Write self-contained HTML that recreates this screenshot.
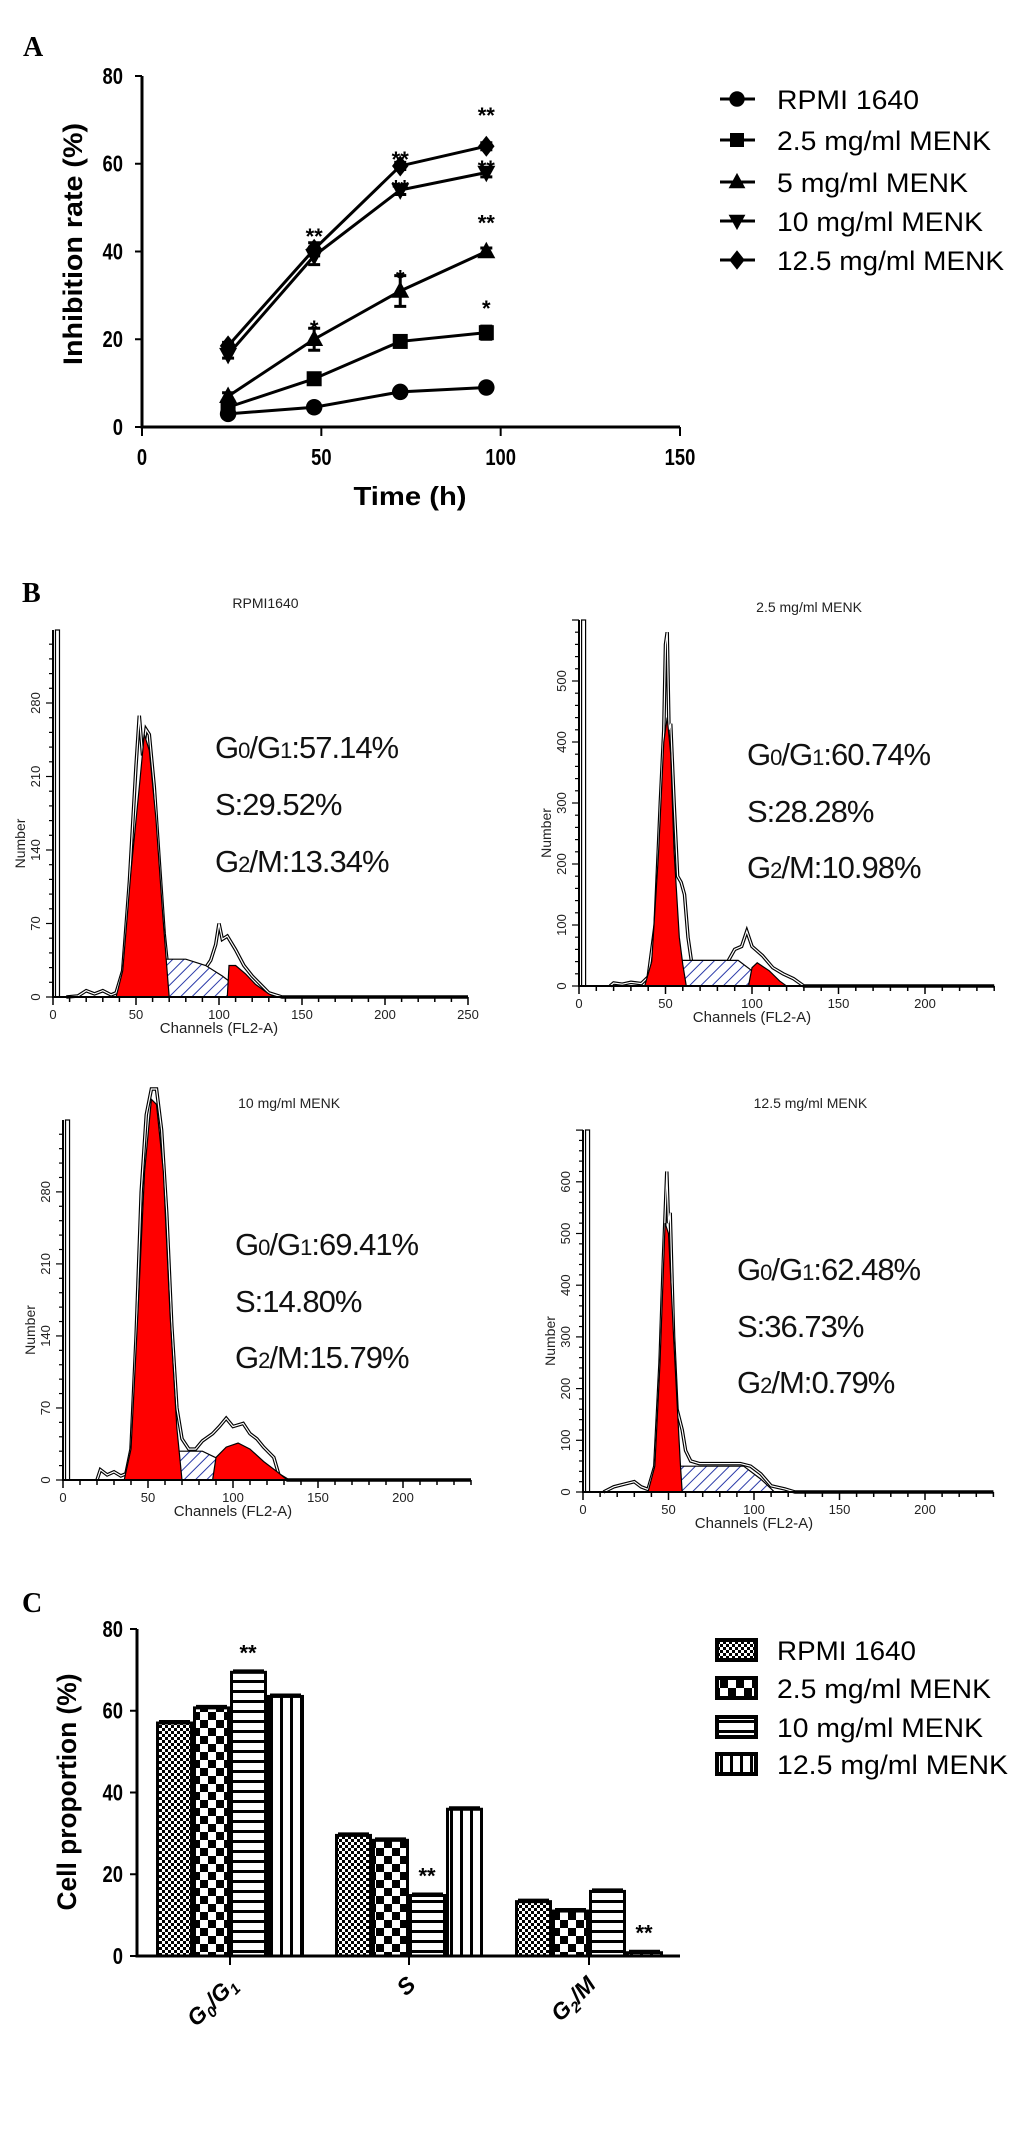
<!DOCTYPE html>
<html><head><meta charset="utf-8"><style>
html,body{margin:0;padding:0;background:#fff;}
svg{display:block;font-family:"Liberation Sans",Arial,sans-serif;}
</style></head><body>
<svg id="fig" xmlns="http://www.w3.org/2000/svg" width="1033" height="2142" viewBox="0 0 1033 2142">
<defs>
<pattern id="hatch" patternUnits="userSpaceOnUse" width="8" height="8" patternTransform="rotate(45)"><rect width="8" height="8" fill="#fff"/><line x1="0" y1="0" x2="0" y2="8" stroke="#2a3aa8" stroke-width="2"/></pattern>
<pattern id="pFine" patternUnits="userSpaceOnUse" width="6" height="6"><rect width="6" height="6" fill="#fff"/><rect width="3" height="3" fill="#000"/><rect x="3" y="3" width="3" height="3" fill="#000"/></pattern>
<pattern id="pBig" patternUnits="userSpaceOnUse" width="16" height="16"><rect width="16" height="16" fill="#fff"/><rect width="8" height="8" fill="#000"/><rect x="8" y="8" width="8" height="8" fill="#000"/></pattern>
<pattern id="pH" patternUnits="userSpaceOnUse" width="10" height="10"><rect width="10" height="10" fill="#fff"/><rect y="0" width="10" height="3" fill="#000"/></pattern>
<pattern id="pV" patternUnits="userSpaceOnUse" width="10" height="10"><rect width="10" height="10" fill="#fff"/><rect x="0" width="3" height="10" fill="#000"/></pattern>
</defs>
<g id="gA"></g>
<g id="gB"></g>
<g id="gC"></g>
</svg>
<script>
// ---------- Panel A data ----------
const timeX = [24, 48, 72, 96];
const seriesNames = ["RPMI 1640", "2.5 mg/ml MENK", "5 mg/ml MENK", "10 mg/ml MENK", "12.5 mg/ml MENK"];
const rpmiVals = [3, 4.5, 8, 9];
const menk25Vals = [4.5, 11, 19.5, 21.5];
const menk5Vals = [7, 20, 31, 40];
const menk10Vals = [16.5, 39, 54, 58];
const menk125Vals = [18.5, 40.5, 59.5, 64];
const rpmiErr = [0.5, 0.5, 0.5, 0.5];
const menk25Err = [0.5, 1, 0.8, 1.5];
const menk5Err = [0.8, 2.5, 3.5, 0.8];
const menk10Err = [0.8, 2, 1, 1];
const menk125Err = [0.8, 1.5, 0.8, 0.8];
const yTicksA = [0, 20, 40, 60, 80];
const xTicksA = [0, 50, 100, 150];
const starX = [48, 48, 72, 72, 72, 96, 96, 96, 96];
const starY = [44.5, 23.5, 62, 35, 55.5, 72, 60, 47.5, 28];
const starText = ["**", "*", "**", "*", "**", "**", "**", "**", "*"];

// ---------- Panel C data ----------
const phaseCats = ["G0/G1", "S", "G2/M"];
const groupNamesC = ["RPMI 1640", "2.5 mg/ml MENK", "10 mg/ml MENK", "12.5 mg/ml MENK"];
const cRpmi = [57, 29.5, 13.3];
const c25 = [60.7, 28.3, 11];
const c10 = [69.4, 14.8, 15.8];
const c125 = [63.5, 35.9, 0.8];
const yTicksC = [0, 20, 40, 60, 80];
const cStarCat = [0, 1, 2];
const cStarBar = [2, 2, 3];

// ---------- Panel B data (channel, count) ----------
const h1Outline = [[8,0],[15,1],[20,6],[25,3],[30,6],[35,2],[38,4],[42,25],[46,110],[50,220],[52,268],[54,230],[56,255],[58,250],[61,200],[64,130],[67,60],[69,30],[72,20],[80,20],[88,20],[92,28],[95,35],[98,50],[100,70],[102,55],[105,58],[110,45],[115,30],[120,20],[125,12],[130,4],[138,0],[250,0]];
const h1G1 = [[38,0],[42,25],[47,120],[52,200],[55,250],[58,235],[62,170],[66,80],[69,20],[70,0]];
const h1S = [[46,0],[55,18],[63,36],[80,36],[92,30],[102,20],[112,8],[124,0]];
const h1G2 = [[105,0],[106,30],[110,30],[116,22],[122,12],[130,3],[134,0]];
const h2Outline = [[18,0],[20,5],[25,3],[30,6],[36,4],[40,15],[44,100],[47,300],[49,420],[50,560],[51,580],[52,420],[53,430],[55,300],[57,180],[59,170],[61,150],[63,80],[65,40],[70,40],[86,40],[90,60],[94,65],[97,90],[100,65],[106,50],[112,30],[118,20],[124,12],[130,0],[240,0]];
const h2G1 = [[38,0],[42,40],[46,220],[49,400],[51,440],[53,380],[55,220],[58,80],[60,35],[62,0]];
const h2S = [[44,0],[54,35],[60,42],[92,42],[100,25],[110,0]];
const h2G2 = [[98,0],[100,30],[103,38],[110,25],[116,8],[120,0]];
const h3Outline = [[20,0],[22,10],[26,5],[30,8],[34,4],[37,6],[40,30],[43,140],[46,280],[49,355],[52,380],[55,380],[58,340],[61,260],[64,150],[67,70],[70,40],[74,30],[78,30],[82,38],[88,45],[92,52],[96,60],[100,52],[106,55],[110,45],[114,40],[118,32],[124,22],[127,5],[132,0],[240,0]];
const h3G1 = [[36,0],[40,30],[44,160],[48,300],[52,370],[55,365],[59,300],[63,160],[67,50],[70,0]];
const h3S = [[48,0],[57,18],[66,28],[82,28],[92,20],[104,8],[112,0]];
const h3G2 = [[88,0],[90,22],[96,32],[103,36],[110,30],[118,18],[126,8],[132,0]];
const h4Outline = [[12,0],[18,10],[24,15],[30,20],[34,10],[38,5],[42,50],[45,250],[47,450],[49,620],[50,520],[51,540],[53,300],[55,160],[58,120],[60,80],[63,60],[68,55],[80,55],[92,55],[98,50],[104,35],[110,12],[118,6],[124,0],[240,0]];
const h4G1 = [[38,0],[42,50],[45,250],[48,520],[50,500],[53,300],[56,110],[57,50],[58,0]];
const h4S = [[46,0],[56,50],[94,50],[104,25],[112,0]];
const h1Pct = ["57.14%", "29.52%", "13.34%"];
const h2Pct = ["60.74%", "28.28%", "10.98%"];
const h3Pct = ["69.41%", "14.80%", "15.79%"];
const h4Pct = ["62.48%", "36.73%", "0.79%"];

const NS = "http://www.w3.org/2000/svg";
function mk(parent, tag, attrs, text) {
  const e = document.createElementNS(NS, tag);
  for (const k in attrs) e.setAttribute(k, attrs[k]);
  if (text !== undefined) e.textContent = text;
  parent.appendChild(e);
  return e;
}

// ================= PANEL A =================
const gA = document.getElementById("gA");
const xA = v => 142 + v * (538 / 150);
const yA = v => 427 - v * (351 / 80);
let t = mk(gA, "text", {x: 23, y: 56, "font-family": "Liberation Serif, serif", "font-weight": "bold", "font-size": 28}, "A");


let ax = mk(gA, "path", {d: `M${xA(0)} ${yA(80)} V${yA(0)} H${xA(150)}`, stroke: "#000", "stroke-width": 3, fill: "none"});


yTicksA.forEach(v => {
  mk(gA, "line", {x1: xA(0) - 7, x2: xA(0), y1: yA(v), y2: yA(v), stroke: "#000", "stroke-width": 2});
  const l = mk(gA, "text", {x: 123, y: yA(v) + 8, "text-anchor": "end", "font-size": 23, "font-weight": "bold", transform: `translate(${123*0.2},0) scale(0.8,1)`}, String(v));
  
  
});
xTicksA.forEach(v => {
  mk(gA, "line", {x1: xA(v), x2: xA(v), y1: yA(0), y2: yA(0) + 9, stroke: "#000", "stroke-width": 2});
  const cx = xA(v);
  const l = mk(gA, "text", {x: cx, y: 465, "text-anchor": "middle", "font-size": 23, "font-weight": "bold", transform: `translate(${cx*0.2},0) scale(0.8,1)`}, String(v));
  
  
});
t = mk(gA, "text", {x: 410, y: 505, "text-anchor": "middle", "font-size": 26, "font-weight": "bold", textLength: 113, lengthAdjust: "spacingAndGlyphs"}, "Time  (h)");


t = mk(gA, "text", {x: 0, y: 0, "text-anchor": "middle", "font-size": 27, "font-weight": "bold", textLength: 242, lengthAdjust: "spacingAndGlyphs", transform: "translate(82,244) rotate(-90)"}, "Inhibition rate (%)");



function marker(g, type, cx, cy, s) {
  let e;
  if (type === 0) e = mk(g, "circle", {cx, cy, r: s * 0.55});
  else if (type === 1) e = mk(g, "rect", {x: cx - s/2, y: cy - s/2, width: s, height: s});
  else if (type === 2) e = mk(g, "polygon", {points: `${cx},${cy - s*0.65} ${cx - s*0.6},${cy + s*0.45} ${cx + s*0.6},${cy + s*0.45}`});
  else if (type === 3) e = mk(g, "polygon", {points: `${cx},${cy + s*0.65} ${cx - s*0.6},${cy - s*0.45} ${cx + s*0.6},${cy - s*0.45}`});
  else e = mk(g, "polygon", {points: `${cx},${cy - s*0.7} ${cx + s*0.55},${cy} ${cx},${cy + s*0.7} ${cx - s*0.55},${cy}`});
  e.setAttribute("fill", "#000");
  return e;
}
const allVals = [rpmiVals, menk25Vals, menk5Vals, menk10Vals, menk125Vals];
const allErr = [rpmiErr, menk25Err, menk5Err, menk10Err, menk125Err];
allVals.forEach((vals, si) => {
  const g = mk(gA, "g", {});
  
  
  const d = vals.map((v, i) => (i ? "L" : "M") + xA(timeX[i]) + " " + yA(v)).join(" ");
  mk(g, "path", {d, stroke: "#000", "stroke-width": 3, fill: "none"});
  vals.forEach((v, i) => {
    const e = allErr[si][i], cx = xA(timeX[i]);
    mk(g, "path", {d: `M${cx} ${yA(v + e)} V${yA(v - e)} M${cx - 6} ${yA(v + e)} H${cx + 6} M${cx - 6} ${yA(v - e)} H${cx + 6}`, stroke: "#000", "stroke-width": 3});
    const m = marker(g, si, cx, yA(v), 15);
    
    
  });
});
starX.forEach((x, i) => {
  const s = mk(gA, "text", {x: xA(x), y: yA(starY[i]) + 12, "text-anchor": "middle", "font-size": 22, "font-weight": "bold"}, starText[i]);
  
  
});
const legRowsA = [99, 140, 182, 221, 260];
const legWA = [142, 214, 191, 206, 227];
seriesNames.forEach((n, i) => {
  const g = mk(gA, "g", {});
  
  
  const y = legRowsA[i];
  mk(g, "line", {x1: 720, x2: 755, y1: y, y2: y, stroke: "#000", "stroke-width": 3});
  marker(g, i, 737, y, 14);
  mk(g, "text", {x: 777, y: y + 10, "font-size": 27, textLength: legWA[i], lengthAdjust: "spacingAndGlyphs"}, n);
});

// ================= PANEL B =================
const gB = document.getElementById("gB");
t = mk(gB, "text", {x: 22, y: 602, "font-family": "Liberation Serif, serif", "font-weight": "bold", "font-size": 28}, "B");


const histCfg = [
  {name: "RPMI1640", x0: 53, y0: 997, kx: 1.66, ky: 1.05, xEnd: 250, yStep: 70, yMax: 280, top: 630, xt: 250, out: h1Outline, g1: h1G1, s: h1S, g2: h1G2, pct: h1Pct, tx: 215, tb: [758, 815, 872], ty: 608},
  {name: "2.5 mg/ml MENK", x0: 579, y0: 986, kx: 1.73, ky: 0.61, xEnd: 240, yStep: 100, yMax: 500, top: 620, xt: 200, out: h2Outline, g1: h2G1, s: h2S, g2: h2G2, pct: h2Pct, tx: 747, tb: [765, 822, 878], ty: 612},
  {name: "10 mg/ml MENK", x0: 63, y0: 1480, kx: 1.7, ky: 1.029, xEnd: 240, yStep: 70, yMax: 280, top: 1120, xt: 200, out: h3Outline, g1: h3G1, s: h3S, g2: h3G2, pct: h3Pct, tx: 235, tb: [1255, 1312, 1368], ty: 1108},
  {name: "12.5 mg/ml MENK", x0: 583, y0: 1492, kx: 1.71, ky: 0.517, xEnd: 240, yStep: 100, yMax: 600, top: 1130, xt: 200, out: h4Outline, g1: h4G1, s: h4S, g2: null, pct: h4Pct, tx: 737, tb: [1280, 1337, 1393], ty: 1108}
];
histCfg.forEach((c, hi) => {
  const g = mk(gB, "g", {});
  
  
  const X = ch => c.x0 + ch * c.kx;
  const Y = n => c.y0 - n * c.ky;
  const poly = pts => pts.map((p, i) => (i ? "L" : "M") + X(p[0]).toFixed(1) + " " + Y(p[1]).toFixed(1)).join(" ");
  const tt = mk(g, "text", {x: X(c.xt === 250 ? 128 : 133), y: c.ty, "text-anchor": "middle", "font-size": 14, fill: "#222"}, c.name);
  
  
  // outline double line
  mk(g, "path", {d: poly(c.out), fill: "none", stroke: "#000", "stroke-width": 3.5});
  mk(g, "path", {d: poly(c.out), fill: "none", stroke: "#fff", "stroke-width": 1.2});
  const sp = mk(g, "path", {d: poly(c.s) + " Z", fill: "url(#hatch)", stroke: "#000", "stroke-width": 1.2});
  
  
  const r1 = mk(g, "path", {d: poly(c.g1) + " Z", fill: "#f00", stroke: "#000", "stroke-width": 1.2});
  
  
  if (c.g2) {
    const r2 = mk(g, "path", {d: poly(c.g2) + " Z", fill: "#f00", stroke: "#000", "stroke-width": 1.2});
    
    
  }
  // debris double bar near 0
  mk(g, "rect", {x: X(1.5), y: c.top, width: 4, height: c.y0 - c.top, fill: "#fff", stroke: "#000", "stroke-width": 1.2});
  // axes
  mk(g, "path", {d: `M${c.x0} ${c.top} V${c.y0} H${X(c.xEnd)}`, stroke: "#000", "stroke-width": 2, fill: "none"});
  for (let ch = 0; ch <= c.xEnd; ch += 10) {
    const major = ch % 50 === 0;
    mk(g, "line", {x1: X(ch), x2: X(ch), y1: c.y0, y2: c.y0 + (major ? 8 : 5), stroke: "#000", "stroke-width": 1.5});
    if (major && ch <= c.xt) {
      const l = mk(g, "text", {x: X(ch), y: c.y0 + 22, "text-anchor": "middle", "font-size": 13, fill: "#222"}, String(ch));
      
      
    }
  }
  const minor = c.yStep / 5;
  for (let n = 0; Y(n) >= c.top; n += minor) {
    const major = Math.abs(n / c.yStep - Math.round(n / c.yStep)) < 1e-6;
    mk(g, "line", {x1: c.x0 - (major ? 7 : 4), x2: c.x0, y1: Y(n), y2: Y(n), stroke: "#000", "stroke-width": 1.2});
    if (major && n <= c.yMax) {
      const lx = c.x0 - 13, ly = Y(n);
      const l = mk(g, "text", {x: lx, y: ly, "text-anchor": "middle", "font-size": 13, fill: "#222", transform: `rotate(-90 ${lx} ${ly})`}, String(Math.round(n)));
      
      
    }
  }
  const nx = c.x0 - 28, ny = (c.top + c.y0) / 2 + 30;
  let l = mk(g, "text", {x: nx, y: ny, "text-anchor": "middle", "font-size": 14, fill: "#222", transform: `rotate(-90 ${nx} ${ny})`}, "Number");
  
  
  l = mk(g, "text", {x: X(100), y: c.y0 + 36, "text-anchor": "middle", "font-size": 15, fill: "#222"}, "Channels (FL2-A)");
  
  
  const labels = [["G", "0", "/G", "1", ":"], ["S:"], ["G", "2", "/M:"]];
  labels.forEach((parts, li) => {
    const te = mk(g, "text", {x: c.tx, y: c.tb[li], "font-size": 31, fill: "#111", "letter-spacing": "-1"});
    
    
    parts.forEach((p, pi) => {
      const small = /^[0-9]$/.test(p);
      mk(te, "tspan", small ? {"font-size": 22} : {}, p);
    });
    mk(te, "tspan", {}, c.pct[li]);
  });
});

// ================= PANEL C =================
const gC = document.getElementById("gC");
const yC = v => 1956 - v * (327 / 80);
const groupCenters = [230, 409, 589];
t = mk(gC, "text", {x: 22, y: 1612, "font-family": "Liberation Serif, serif", "font-weight": "bold", "font-size": 28}, "C");


const patIds = ["url(#pFine)", "url(#pBig)", "url(#pH)", "url(#pV)"];
const cVals = [cRpmi, c25, c10, c125];
cVals.forEach((vals, bi) => {
  vals.forEach((v, ci) => {
    const x = groupCenters[ci] - 74 + bi * 37;
    const b = mk(gC, "rect", {x: x + 1.5, y: yC(v), width: 34, height: yC(0) - yC(v), fill: patIds[bi], stroke: "#000", "stroke-width": 3});
    
    
    mk(gC, "line", {x1: x + 3, x2: x + 34, y1: yC(v) - 1, y2: yC(v) - 1, stroke: "#000", "stroke-width": 4});
  });
});
ax = mk(gC, "path", {d: `M137 ${yC(80)} V${yC(0)} H680`, stroke: "#000", "stroke-width": 3, fill: "none"});


yTicksC.forEach(v => {
  mk(gC, "line", {x1: 130, x2: 137, y1: yC(v), y2: yC(v), stroke: "#000", "stroke-width": 2});
  const l = mk(gC, "text", {x: 123, y: yC(v) + 8, "text-anchor": "end", "font-size": 23, "font-weight": "bold", transform: `translate(${123*0.2},0) scale(0.8,1)`}, String(v));
  
  
});
groupCenters.forEach(cx => mk(gC, "line", {x1: cx, x2: cx, y1: yC(0), y2: yC(0) + 9, stroke: "#000", "stroke-width": 2}));
const catParts = [[["G", ""], ["0", "s"], ["/G", ""], ["1", "s"]], [["S", ""]], [["G", ""], ["2", "s"], ["/M", ""]]];
catParts.forEach((parts, ci) => {
  const cx = groupCenters[ci] + 8, cy = yC(0) + 30;
  const te = mk(gC, "text", {x: cx, y: cy, "text-anchor": "end", "font-size": 23, "font-weight": "bold", "font-style": "italic", transform: `rotate(-45 ${cx} ${cy})`});
  
  
  parts.forEach(p => mk(te, "tspan", p[1] ? {"font-size": 15, dy: 5} : {dy: parts.length > 1 && te.childNodes.length ? -5 : 0}, p[0]));
});
t = mk(gC, "text", {x: 0, y: 0, "text-anchor": "middle", "font-size": 27, "font-weight": "bold", textLength: 237, lengthAdjust: "spacingAndGlyphs", transform: "translate(76,1792) rotate(-90)"}, "Cell proportion (%)");


cStarCat.forEach((ci, i) => {
  const bi = cStarBar[i];
  const x = groupCenters[ci] - 74 + bi * 37 + 18;
  const s = mk(gC, "text", {x, y: yC(cVals[bi][ci]) - 12, "text-anchor": "middle", "font-size": 22, "font-weight": "bold"}, "**");
  
  
});
const legRowsC = [1650, 1688, 1727, 1764];
const legWC = [139, 214, 206, 231];
groupNamesC.forEach((n, i) => {
  const g = mk(gC, "g", {});
  
  
  const y = legRowsC[i];
  mk(g, "rect", {x: 717, y: y - 10, width: 39, height: 20, fill: patIds[i], stroke: "#000", "stroke-width": 4});
  mk(g, "text", {x: 777, y: y + 10, "font-size": 27, textLength: legWC[i], lengthAdjust: "spacingAndGlyphs"}, n);
});
</script>
</body></html>
